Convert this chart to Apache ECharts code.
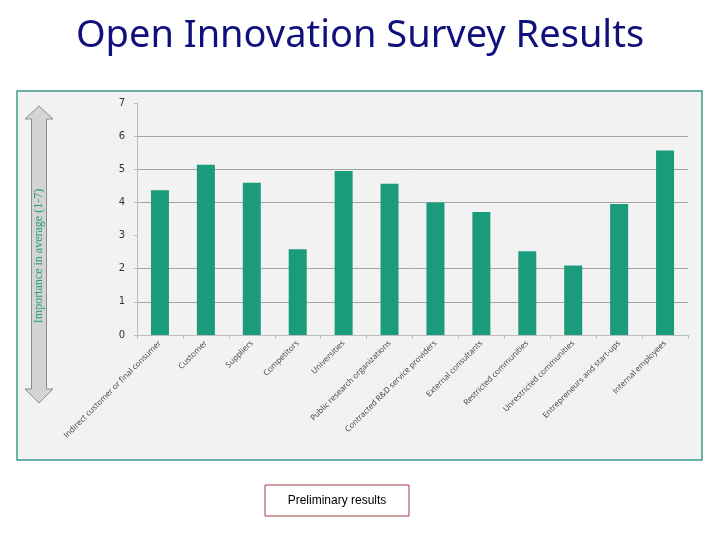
<!DOCTYPE html>
<html>
<head>
<meta charset="utf-8">
<script src="https://cdn.jsdelivr.net/npm/echarts@6/dist/echarts.min.js"></script>
<style>
  html, body { margin: 0; padding: 0; background: #fff; }
  #main { width: 720px; height: 540px; }
</style>
</head>
<body>
<div id="main"></div>
<script>
var categories = [
    'Indirect customer or final consumer',
    'Customer',
    'Suppliers',
    'Competitors',
    'Universities',
    'Public research organizations',
    'Contracted R&D service providers',
    'External consultants',
    'Restricted communities',
    'Unrestricted communities',
    'Entrepreneurs and start-ups',
    'Internal employees'
];
var importance = [4.37, 5.14, 4.59, 2.59, 4.95, 4.56, 4.0, 3.71, 2.53, 2.1, 3.95, 5.57];

var gridGrey = '#a4a4a4';

var myChart = echarts.init(document.getElementById('main'));

var option = {
    backgroundColor: '#ffffff',
    animation: false,
    title: {
        text: 'Open Innovation Survey Results',
        left: 'center',
        top: 12,
        textStyle: {
            fontFamily: 'Noto Sans',
            fontWeight: 'normal',
            fontSize: 38,
            color: '#10107c'
        }
    },
    graphic: [
        {
            // chart frame
            type: 'rect',
            z: -10,
            shape: { x: 17, y: 91, width: 685, height: 369 },
            style: { fill: '#f2f2f2', stroke: '#3c9a8a', lineWidth: 1.5 }
        },
        {
            // double-headed arrow on the left
            type: 'polygon',
            z: 5,
            shape: {
                points: [
                    [39, 106], [53, 119], [46.5, 119], [46.5, 389], [53, 389],
                    [39, 403], [25, 389], [31.5, 389], [31.5, 119], [25, 119]
                ]
            },
            style: { fill: '#d4d4d4', stroke: '#8c8c8c', lineWidth: 1 }
        },
        {
            type: 'text',
            z: 6,
            x: 39,
            y: 256,
            rotation: Math.PI / 2,
            style: {
                text: 'Importance in average (1-7)',
                fontFamily: 'Liberation Serif',
                fontSize: 12,
                fill: '#259a7e',
                align: 'center',
                verticalAlign: 'middle'
            }
        },
        {
            type: 'rect',
            z: 5,
            shape: { x: 265, y: 485, width: 144, height: 31 },
            style: { fill: '#ffffff', stroke: '#a33a44', lineWidth: 1 }
        },
        {
            type: 'text',
            z: 6,
            x: 337,
            y: 501,
            style: {
                text: 'Preliminary results',
                fontFamily: 'Liberation Sans',
                fontSize: 12,
                fill: '#000000',
                align: 'center',
                verticalAlign: 'middle'
            }
        }
    ],
    grid: {
        left: 137,
        right: 32,
        top: 103,
        bottom: 205,
        containLabel: false
    },
    xAxis: {
        type: 'category',
        data: categories,
        axisLine: { lineStyle: { color: '#bdbdbd', width: 1 } },
        axisTick: { show: true, length: 4, lineStyle: { color: '#bdbdbd' } },
        axisLabel: {
            interval: 0,
            rotate: 45,
            margin: 7,
            fontFamily: 'Open Sans',
            fontSize: 8,
            color: '#404040'
        }
    },
    yAxis: {
        type: 'value',
        min: 0,
        max: 7,
        interval: 1,
        axisLine: { show: true, lineStyle: { color: '#bdbdbd', width: 1 } },
        axisTick: { show: true, length: 3, lineStyle: { color: '#bdbdbd' } },
        axisLabel: {
            margin: 12,
            fontFamily: 'DejaVu Sans',
            fontSize: 10,
            color: '#333333'
        },
        splitLine: {
            show: true,
            lineStyle: {
                color: [gridGrey, gridGrey, gridGrey, 'transparent', gridGrey, gridGrey, gridGrey, 'transparent'],
                width: 1
            }
        }
    },
    series: [
        {
            name: 'Importance',
            type: 'bar',
            barWidth: 18,
            data: importance,
            itemStyle: { color: '#1a9b7c' }
        }
    ]
};

myChart.setOption(option);
</script>
</body>
</html>
